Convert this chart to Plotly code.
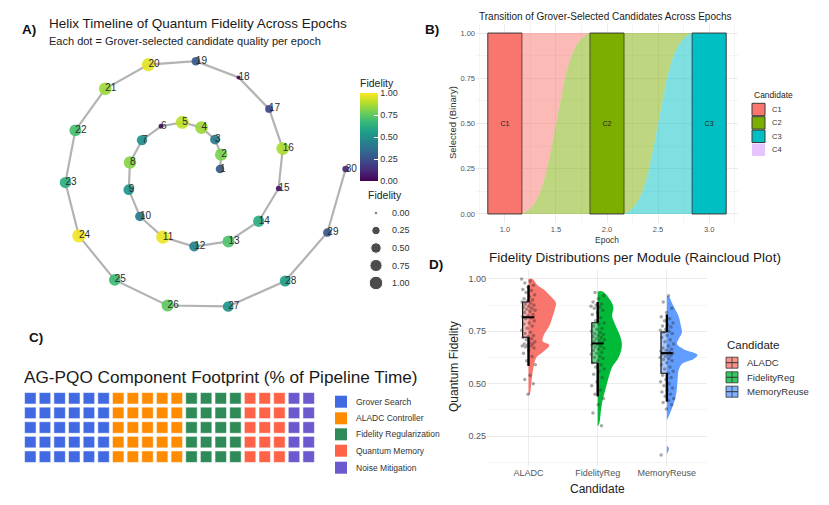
import numpy as np
import plotly.graph_objects as go

W, H = 829, 505
FONT = "Liberation Sans"

# ---------------- Panel A data ----------------
epochs = list(range(1, 31))
fidelity = [0.28, 0.80, 0.42, 0.85, 0.90, 0.03, 0.50, 0.82, 0.52, 0.40,
            0.97, 0.45, 0.72, 0.62, 0.05, 0.87, 0.22, 0.01, 0.28, 0.96,
            0.85, 0.70, 0.63, 0.98, 0.68, 0.75, 0.52, 0.56, 0.28, 0.12]
size_levels = [0.0, 0.25, 0.5, 0.75, 1.0]

# ---------------- Panel B data ----------------
candidates = ["C1", "C2", "C3", "C4"]
cand_colors = ["#F8766D", "#7CAE00", "#00BFC4", "#C77CFF"]
sel_epochs = [1, 2, 3]
sel_cand = ["C1", "C2", "C3"]
sel_value = [1, 1, 1]

# ---------------- Panel C data ----------------
components = ["Grover Search", "ALADC Controller", "Fidelity Regularization",
              "Quantum Memory", "Noise Mitigation"]
shares = [30, 25, 20, 15, 10]
comp_colors = ["#4169E1", "#FF8C00", "#2E8B57", "#FF6347", "#6A5ACD"]
waffle_rows = 5

# ---------------- Panel D data ----------------
modules = ["ALADC", "FidelityReg", "MemoryReuse"]
mod_colors = ["#F8766D", "#00BA38", "#619CFF"]
mod_fill = ["rgba(248,118,109,0.55)", "rgba(0,186,56,0.55)", "rgba(97,156,255,0.55)"]
q1 = [0.722, 0.599, 0.550]
median = [0.817, 0.692, 0.646]
q3 = [0.890, 0.791, 0.747]
lowerfence = [0.585, 0.440, 0.415]
upperfence = [0.970, 0.890, 0.830]

aladc_pts = [1.0, 0.99, 0.98, 0.97, 0.96, 0.95, 0.945, 0.935, 0.925, 0.915, 0.905, 0.90,
             0.895, 0.89, 0.885, 0.88, 0.875, 0.87, 0.865, 0.86, 0.855, 0.85, 0.845, 0.84,
             0.83, 0.825, 0.82, 0.815, 0.81, 0.80, 0.79, 0.785, 0.775, 0.765, 0.755, 0.745,
             0.74, 0.73, 0.725, 0.72, 0.715, 0.71, 0.70, 0.695, 0.69, 0.69, 0.685, 0.68,
             0.68, 0.675, 0.67, 0.66, 0.645, 0.63, 0.61, 0.59, 0.54, 0.52, 0.50, 0.45]
fidreg_pts = [0.935, 0.92, 0.905, 0.89, 0.88, 0.875, 0.87, 0.865, 0.86, 0.85, 0.84, 0.83,
              0.815, 0.80, 0.79, 0.785, 0.775, 0.765, 0.76, 0.75, 0.745, 0.74, 0.735, 0.73,
              0.725, 0.72, 0.715, 0.71, 0.705, 0.70, 0.695, 0.69, 0.685, 0.68, 0.675, 0.67,
              0.665, 0.66, 0.65, 0.645, 0.64, 0.63, 0.625, 0.62, 0.61, 0.60, 0.59, 0.58,
              0.57, 0.56, 0.545, 0.53, 0.51, 0.49, 0.47, 0.45, 0.43, 0.40, 0.36, 0.30]
memreuse_pts = [0.92, 0.89, 0.86, 0.84, 0.82, 0.81, 0.80, 0.79, 0.78, 0.775, 0.77, 0.76,
                0.755, 0.75, 0.745, 0.74, 0.73, 0.72, 0.71, 0.70, 0.69, 0.68, 0.67, 0.665,
                0.66, 0.655, 0.65, 0.645, 0.645, 0.64, 0.64, 0.635, 0.63, 0.625, 0.62, 0.615,
                0.61, 0.60, 0.59, 0.58, 0.57, 0.56, 0.55, 0.54, 0.53, 0.52, 0.51, 0.50,
                0.49, 0.48, 0.47, 0.46, 0.45, 0.44, 0.43, 0.42, 0.41, 0.40, 0.38, 0.16]
module_points = [aladc_pts, fidreg_pts, memreuse_pts]

# density profiles (fidelity level, relative half-width)
aladc_lv = [1.0, 0.97, 0.948, 0.917, 0.886, 0.854, 0.822, 0.775, 0.736, 0.704, 0.684, 0.649, 0.626, 0.587, 0.524, 0.449]
aladc_dn = [0.058, 0.13, 0.227, 0.32, 0.396, 0.38, 0.35, 0.30, 0.227, 0.203, 0.300, 0.200, 0.116, 0.077, 0.048, 0.015]
fidreg_lv = [0.940, 0.893, 0.862, 0.823, 0.791, 0.736, 0.697, 0.657, 0.618, 0.579, 0.531, 0.484, 0.422, 0.375, 0.312, 0.296]
fidreg_dn = [0.072, 0.193, 0.227, 0.208, 0.242, 0.314, 0.348, 0.338, 0.290, 0.208, 0.159, 0.121, 0.072, 0.048, 0.024, 0.0]
memre_lv = [0.917, 0.869, 0.822, 0.775, 0.744, 0.712, 0.689, 0.665, 0.638, 0.618, 0.594, 0.563, 0.524, 0.476, 0.429, 0.382, 0.343, 0.327]
memre_dn = [0.024, 0.097, 0.169, 0.203, 0.217, 0.169, 0.145, 0.242, 0.444, 0.386, 0.217, 0.169, 0.155, 0.145, 0.121, 0.072, 0.024, 0.0]
memre_tail_lv = [0.200, 0.185, 0.163]
memre_tail_dn = [0.020, 0.030, 0.0]
density_levels = [aladc_lv, fidreg_lv, memre_lv]
density_width = [aladc_dn, fidreg_dn, memre_dn]


def px(x):
    return x / W


def py(y):
    return 1 - y / H


fig = go.Figure()
annotations = []
shapes = []


def ann(text, x, y, size, color="#1a1a1a", xanchor="left", yanchor="middle", bold=False, angle=0):
    annotations.append(dict(
        text=("<b>%s</b>" % text) if bold else text, x=px(x), y=py(y), xref="paper", yref="paper",
        xanchor=xanchor, yanchor=yanchor, showarrow=False, textangle=angle,
        font=dict(family=FONT, size=size, color=color)))


def dot_size(f):
    return 3.0 + 10.5 * np.sqrt(f)


# ================= Panel A: helix =================
theta = np.linspace(0, 4 * np.pi, len(epochs))
radius = 1 + theta / 3
hx = radius * np.cos(theta)
hy = radius * np.sin(theta)
sizes = [dot_size(f) for f in fidelity]

fig.add_trace(go.Scatter(x=hx, y=hy, mode="lines", line=dict(color="#B3B3B3", width=2.2),
                         xaxis="x", yaxis="y", hoverinfo="skip", showlegend=False))
fig.add_trace(go.Scatter(x=hx, y=hy, mode="markers",
                         marker=dict(size=sizes, color=fidelity, coloraxis="coloraxis",
                                     opacity=0.92, line=dict(width=0)),
                         xaxis="x", yaxis="y", showlegend=False))
fig.add_trace(go.Scatter(x=hx, y=hy, mode="text", text=[str(e) for e in epochs],
                         textposition="middle right",
                         textfont=dict(family=FONT, size=10, color="#2a2a2a"),
                         xaxis="x", yaxis="y", showlegend=False, hoverinfo="skip"))

# size legend
fig.add_trace(go.Scatter(x=[0.185] * len(size_levels), y=size_levels, mode="markers",
                         marker=dict(size=[dot_size(s) for s in size_levels], color="black"),
                         xaxis="x2", yaxis="y2", showlegend=False, hoverinfo="skip"))
ann("Fidelity", 366, 195, 10.5, color="#222")
for i, s in enumerate(size_levels):
    ann("%.2f" % s, 390, 213 + i * 17.5, 9, color="#333")

# ================= Panel B: transitions =================
bw = 0.335


def flow_curve(n=60):
    s = np.linspace(0, 1, n)
    k = 8.0
    raw = 1 / (1 + np.exp(-k * (s - 0.5)))
    return s, (raw - raw[0]) / (raw[-1] - raw[0])


def rgba(hx_, a):
    hx_ = hx_.lstrip("#")
    return "rgba(%d,%d,%d,%.2f)" % (int(hx_[0:2], 16), int(hx_[2:4], 16), int(hx_[4:6], 16), a)


for i in range(len(sel_epochs) - 1):
    x0 = sel_epochs[i] + bw / 2
    x1 = sel_epochs[i + 1] - bw / 2
    s, ys = flow_curve()
    xs = x0 + s * (x1 - x0)
    c_from = cand_colors[candidates.index(sel_cand[i])]
    c_to = cand_colors[candidates.index(sel_cand[i + 1])]
    fig.add_trace(go.Scatter(x=list(xs) + [x0], y=list(ys) + [1], fill="toself", mode="lines",
                             line=dict(width=0), fillcolor=rgba(c_from, 0.5),
                             xaxis="x3", yaxis="y3", showlegend=False, hoverinfo="skip"))
    fig.add_trace(go.Scatter(x=list(xs) + [x1], y=list(ys) + [0], fill="toself", mode="lines",
                             line=dict(width=0), fillcolor=rgba(c_to, 0.5),
                             xaxis="x3", yaxis="y3", showlegend=False, hoverinfo="skip"))

fig.add_trace(go.Bar(x=sel_epochs, y=sel_value, width=bw,
                     marker=dict(color=[cand_colors[candidates.index(c)] for c in sel_cand],
                                 line=dict(color="#3A3A3A", width=1)),
                     text=sel_cand, textposition="inside", insidetextanchor="middle",
                     textangle=0, constraintext="none",
                     textfont=dict(family=FONT, size=7, color="#222"),
                     xaxis="x3", yaxis="y3", showlegend=False, hoverinfo="skip"))

ann("Transition of Grover-Selected Candidates Across Epochs", 477, 16, 10, color="#1a1a1a")
ann("Epoch", 607, 240, 8.5, color="#333", xanchor="center")
ann("Selected (Binary)", 452, 123, 9.5, color="#333", xanchor="center", angle=-90)
# legend B
ann("Candidate", 752, 95, 8.5, color="#222")
for i, c in enumerate(candidates):
    top = 103.3 + i * 13.4
    if c == "C4":
        shapes.append(dict(type="rect", xref="paper", yref="paper", x0=px(752), x1=px(765),
                           y0=py(top + 12.4), y1=py(top), fillcolor="rgba(199,124,255,0.45)",
                           line=dict(width=0)))
    else:
        shapes.append(dict(type="rect", xref="paper", yref="paper", x0=px(752), x1=px(765),
                           y0=py(top + 12.4), y1=py(top), fillcolor=cand_colors[i],
                           line=dict(color="#3A3A3A", width=1)))
    ann(c, 770, top + 6.2, 7.5, color="#333")

# ================= Panel C: waffle =================
for ci, (comp, share) in enumerate(zip(components, shares)):
    start = sum(shares[:ci])
    cells = list(range(start, start + share))
    fig.add_trace(go.Scatter(x=[k // waffle_rows + 1 for k in cells],
                             y=[k % waffle_rows + 1 for k in cells],
                             mode="markers",
                             marker=dict(symbol="square", size=11.5, color=comp_colors[ci],
                                         line=dict(color="rgba(255,255,255,0.55)", width=1)),
                             xaxis="x4", yaxis="y4", showlegend=False, hoverinfo="skip"))
    cy = [401.7, 418.3, 434.3, 450.7, 467.7][ci]
    shapes.append(dict(type="rect", xref="paper", yref="paper", x0=px(335), x1=px(347),
                       y0=py(cy + 6), y1=py(cy - 6), fillcolor=comp_colors[ci], line=dict(width=0)))
    ann(comp, 354, cy, 8.5, color="#333")
ann("AG-PQO Component Footprint (% of Pipeline Time)", 22, 377, 17.2, color="#1a1a1a")

# ================= Panel D: raincloud =================
for mi, mod in enumerate(modules):
    pos = mi + 1
    lv = density_levels[mi]
    dn = density_width[mi]
    vx = [pos] + [pos + d for d in dn] + [pos]
    vy = [lv[0]] + lv + [lv[-1]]
    fig.add_trace(go.Scatter(x=vx, y=vy, fill="toself", mode="lines",
                             line=dict(width=0, shape="spline", smoothing=1.0),
                             fillcolor=mod_colors[mi], xaxis="x5", yaxis="y5",
                             showlegend=False, hoverinfo="skip"))
    if mod == "MemoryReuse":
        fig.add_trace(go.Scatter(x=[pos] + [pos + d for d in memre_tail_dn] + [pos],
                                 y=[memre_tail_lv[0]] + memre_tail_lv + [memre_tail_lv[-1]],
                                 fill="toself", mode="lines", line=dict(width=0),
                                 fillcolor=mod_colors[mi], xaxis="x5", yaxis="y5",
                                 showlegend=False, hoverinfo="skip"))
    pts = module_points[mi]
    jit = [0.10 * (((k * 0.6180339887 + 0.31 * mi) % 1.0) * 2 - 1) for k in range(len(pts))]
    fig.add_trace(go.Scatter(x=[pos + j for j in jit], y=pts, mode="markers",
                             marker=dict(size=3.5, color="rgba(50,50,50,0.42)", line=dict(width=0)),
                             xaxis="x5", yaxis="y5", showlegend=False, hoverinfo="skip"))
    fig.add_trace(go.Box(x=[pos], q1=[q1[mi]], median=[median[mi]], q3=[q3[mi]],
                         lowerfence=[lowerfence[mi]], upperfence=[upperfence[mi]],
                         width=0.17, whiskerwidth=0, fillcolor=mod_fill[mi],
                         line=dict(color="black", width=1.1), boxpoints=False,
                         xaxis="x5", yaxis="y5", showlegend=False, hoverinfo="skip"))
    # thick whiskers and median
    fig.add_trace(go.Scatter(x=[pos, pos, None, pos, pos],
                             y=[lowerfence[mi], q1[mi], None, q3[mi], upperfence[mi]],
                             mode="lines", line=dict(color="black", width=2.4),
                             xaxis="x5", yaxis="y5", showlegend=False, hoverinfo="skip"))
    fig.add_trace(go.Scatter(x=[pos - 0.085, pos + 0.085], y=[median[mi], median[mi]],
                             mode="lines", line=dict(color="black", width=2),
                             xaxis="x5", yaxis="y5", showlegend=False, hoverinfo="skip"))
    # legend D
    cy = [362.7, 377.3, 391.7][mi]
    shapes.append(dict(type="rect", xref="paper", yref="paper", x0=px(726), x1=px(738),
                       y0=py(cy + 5.5), y1=py(cy - 5.5), fillcolor=mod_fill[mi].replace("0.55", "0.8"),
                       line=dict(color="#333", width=0.8)))
    shapes.append(dict(type="line", xref="paper", yref="paper", x0=px(726), x1=px(738),
                       y0=py(cy), y1=py(cy), line=dict(color="#333", width=1)))
    shapes.append(dict(type="line", xref="paper", yref="paper", x0=px(732), x1=px(732),
                       y0=py(cy + 5.5), y1=py(cy - 5.5), line=dict(color="#333", width=0.8)))
    ann(mod, 745, cy, 9.5, color="#333")

ann("Candidate", 725, 345, 11.5, color="#222")
ann("Fidelity Distributions per Module (Raincloud Plot)", 487, 257, 13.5, color="#1a1a1a")
ann("Candidate", 597, 489, 12, color="#222", xanchor="center")
ann("Quantum Fidelity", 454, 367, 12, color="#222", xanchor="center", angle=-90)

# ================= Titles & panel labels =================
ann("Helix Timeline of Quantum Fidelity Across Epochs", 47, 23, 13.5, color="#1a1a1a")
ann("Each dot = Grover-selected candidate quality per epoch", 47, 41, 11, color="#222")
ann("A)", 20, 29, 13.5, bold=True, color="#111")
ann("B)", 423, 29, 13.5, bold=True, color="#111")
ann("C)", 27, 337, 13.5, bold=True, color="#111")
ann("D)", 427, 264, 13.5, bold=True, color="#111")

hidden = dict(visible=False, showgrid=False, zeroline=False)
grid = "#EBEBEB"
minor_grid = "#F4F4F4"

fig.update_layout(
    width=W, height=H, margin=dict(l=0, r=0, t=0, b=0),
    paper_bgcolor="white", plot_bgcolor="white",
    font=dict(family=FONT),
    showlegend=False,
    annotations=annotations, shapes=shapes,
    coloraxis=dict(colorscale="Viridis", cmin=0, cmax=1,
                   colorbar=dict(x=px(360), xanchor="left", y=py(76), yanchor="top",
                                 len=(181 - 76) / H, lenmode="fraction", thickness=18,
                                 thicknessmode="pixels", xpad=0, ypad=0, outlinewidth=0,
                                 tickvals=[0, 0.25, 0.5, 0.75, 1.0],
                                 ticktext=["0.00", "0.25", "0.50", "0.75", "1.00"],
                                 ticks="inside", ticklen=4, tickcolor="white",
                                 tickfont=dict(family=FONT, size=9, color="#333"),
                                 title=dict(text="Fidelity", side="top",
                                            font=dict(family=FONT, size=10.5, color="#222")))),
    xaxis=dict(domain=[px(30), px(370)], range=[-5.333, 6.0], anchor="y", **hidden),
    yaxis=dict(domain=[py(322), py(50)], range=[-5.1, 3.967], anchor="x", **hidden),
    xaxis2=dict(domain=[px(366), px(420)], range=[0, 1], anchor="y2", **hidden),
    yaxis2=dict(domain=[py(292), py(204)], range=[1.129, -0.129], anchor="x2", **hidden),
    xaxis3=dict(domain=[px(476), px(738)], range=[0.717, 3.283], anchor="y3",
                tick0=0, dtick=0.5, tickformat=".1f", showgrid=True, gridcolor=grid, gridwidth=1,
                minor=dict(dtick=0.25, tick0=0, showgrid=True, gridcolor=minor_grid, gridwidth=0.6),
                zeroline=False, showline=False, ticks="",
                tickfont=dict(family=FONT, size=7.5, color="#555")),
    yaxis3=dict(domain=[py(223), py(24)], range=[-0.05, 1.05], anchor="x3",
                tick0=0, dtick=0.25, tickformat=".2f", showgrid=True, gridcolor=grid, gridwidth=1,
                minor=dict(dtick=0.125, tick0=0, showgrid=True, gridcolor=minor_grid, gridwidth=0.6),
                zeroline=False, showline=False, ticks="",
                tickfont=dict(family=FONT, size=7.5, color="#555")),
    xaxis4=dict(domain=[px(23), px(316)], range=[0.5, 20.5], anchor="y4", **hidden),
    yaxis4=dict(domain=[py(464), py(391)], range=[5.5, 0.5], anchor="x4", **hidden),
    xaxis5=dict(domain=[px(487), px(707)], range=[0.4, 3.58], anchor="y5",
                tickvals=[1, 2, 3], ticktext=modules, showgrid=True, gridcolor=grid, gridwidth=1,
                zeroline=False, showline=False, ticks="",
                tickfont=dict(family=FONT, size=9, color="#555")),
    yaxis5=dict(domain=[py(466), py(270)], range=[0.1075, 1.0425], anchor="x5",
                tick0=0, dtick=0.25, tickformat=".2f", showgrid=True, gridcolor=grid, gridwidth=1,
                minor=dict(dtick=0.125, tick0=0, showgrid=True, gridcolor=minor_grid, gridwidth=0.6),
                zeroline=False, showline=False, ticks="",
                tickfont=dict(family=FONT, size=9, color="#555")),
)

fig.write_html("out.html", config={"displayModeBar": False},
               post_script="document.documentElement.style.margin='0';"
                           "document.body.style.margin='0';document.body.style.padding='0';"
                           "document.body.style.overflow='hidden';")
